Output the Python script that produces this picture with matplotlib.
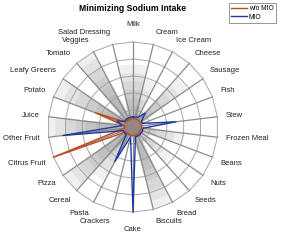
import numpy as np
import matplotlib.pyplot as plt

plt.rcParams['font.family'] = ['Liberation Sans', 'DejaVu Sans']

categories = ['Milk', 'Cream', 'Ice Cream', 'Cheese', 'Sausage', 'Fish', 'Stew',
              'Frozen Meal', 'Beans', 'Nuts', 'Seeds', 'Bread', 'Biscuits', 'Cake',
              'Crackers', 'Pasta', 'Cereal', 'Pizza', 'Citrus Fruit', 'Other Fruit',
              'Juice', 'Potato', 'Leafy Greens', 'Tomato', 'Veggies', 'Salad Dressing']

# normalised intake per food group
wo_mio = [0.10, 0.10, 0.10, 0.10, 0.10, 0.10, 0.10, 0.10, 0.10, 0.10, 0.10, 0.10, 0.10,
          0.10, 0.10, 0.10, 0.10, 0.10, 1.00, 0.10, 0.10, 0.47, 0.10, 0.10, 0.10, 0.10]
mio = [0.12, 0.12, 0.13, 0.22, 0.12, 0.12, 0.51, 0.12, 0.12, 0.12, 0.12, 0.12, 0.12,
       1.00, 0.12, 0.46, 0.12, 0.12, 0.12, 0.83, 0.13, 0.20, 0.12, 0.12, 0.12, 0.12]

# spread of the sampled solutions (grey cloud): food groups and radius levels
gray_bands = [
    (['Salad Dressing', 'Milk', 'Cream'], [0.74, 0.64, 0.54, 0.44, 0.34, 0.25]),
    (['Cream', 'Ice Cream'], [0.58, 0.46, 0.34, 0.24]),
    (['Cheese', 'Sausage'], [0.78, 0.66, 0.54, 0.42, 0.3]),
    (['Frozen Meal', 'Beans'], [0.62, 0.5, 0.38, 0.27]),
    (['Nuts', 'Seeds'], [0.56, 0.45, 0.34, 0.24]),
    (['Bread', 'Biscuits'], [1.0, 0.9, 0.78, 0.66, 0.54, 0.42]),
    (['Pasta', 'Cereal'], [0.72, 0.6, 0.48, 0.36, 0.26]),
    (['Cereal', 'Pizza'], [1.0, 0.9, 0.78, 0.66, 0.54, 0.42]),
    (['Other Fruit', 'Juice'], [1.0, 0.92, 0.8, 0.68, 0.56, 0.44]),
    (['Potato', 'Leafy Greens'], [1.0, 0.88, 0.74, 0.6, 0.48, 0.36]),
    (['Tomato', 'Veggies'], [1.0, 0.92, 0.8, 0.68, 0.56, 0.44]),
]
base_level = 0.1
rings = [0.2, 0.4, 0.6, 0.8, 1.0]

n = len(categories)
theta = np.pi / 2 - 2 * np.pi * np.arange(n) / n


def to_xy(vals):
    r = np.append(np.asarray(vals, dtype=float), vals[0])
    t = np.append(theta, theta[0])
    return r * np.cos(t), r * np.sin(t)


fig = plt.figure(figsize=(2.81, 2.41), dpi=100)
ax = fig.add_axes([0, 0, 1, 1])
s = 85.0
ax.set_xlim(-133 / s, (281 - 133) / s)
ax.set_ylim(-(241 - 127) / s, 127 / s)
ax.axis('off')

# grey cloud
for cats, levels in gray_bands:
    for lev in levels:
        vals = [lev if c in cats else base_level for c in categories]
        x, y = to_xy(vals)
        ax.fill(x, y, color='#7a7a7a', alpha=0.11, lw=0, zorder=1)

# web
for rr in rings:
    x, y = to_xy([rr] * n)
    ax.plot(x, y, color='#a6a6a6', lw=0.7, zorder=2)
for t in theta:
    ax.plot([0, np.cos(t)], [0, np.sin(t)], color='#8c8c8c', lw=0.9, zorder=2)

ax.add_patch(plt.Circle((0, 0), 0.115, color='#8e8b92', zorder=3, lw=0))

x, y = to_xy(wo_mio)
ax.fill(x, y, color='#d95319', alpha=0.1, lw=0, zorder=3)
l1, = ax.plot(x, y, color='#c04b1c', lw=1.0, zorder=4, label='w/o MIO')
x, y = to_xy(mio)
l2, = ax.plot(x, y, color='#1f3a9e', lw=1.0, zorder=5, label='MIO')

# labels
for name, t in zip(categories, theta):
    c, sn = np.cos(t), np.sin(t)
    ha = 'left' if c > 0.1 else ('right' if c < -0.1 else 'center')
    va = 'bottom' if sn > 0.2 else ('top' if sn < -0.2 else 'center')
    r = 1.1 if abs(c) > 0.1 else 1.17
    ax.text(r * c, r * sn, name, ha=ha, va=va, fontsize=5.5, color='#222222')

fig.text(133 / 281, 1 - 8.5 / 241, 'Minimizing Sodium Intake', ha='center', va='center',
         fontsize=6.2, fontweight='bold')

leg = fig.legend(handles=[l1, l2], loc='upper right', bbox_to_anchor=(279 / 281, 1.0),
                 fontsize=4.8, handlelength=2.4, borderpad=0.3, labelspacing=0.2,
                 handletextpad=0.3, fancybox=False, framealpha=1, edgecolor='#888888')
leg.get_frame().set_linewidth(0.6)

fig.savefig('out.png', dpi=100)
